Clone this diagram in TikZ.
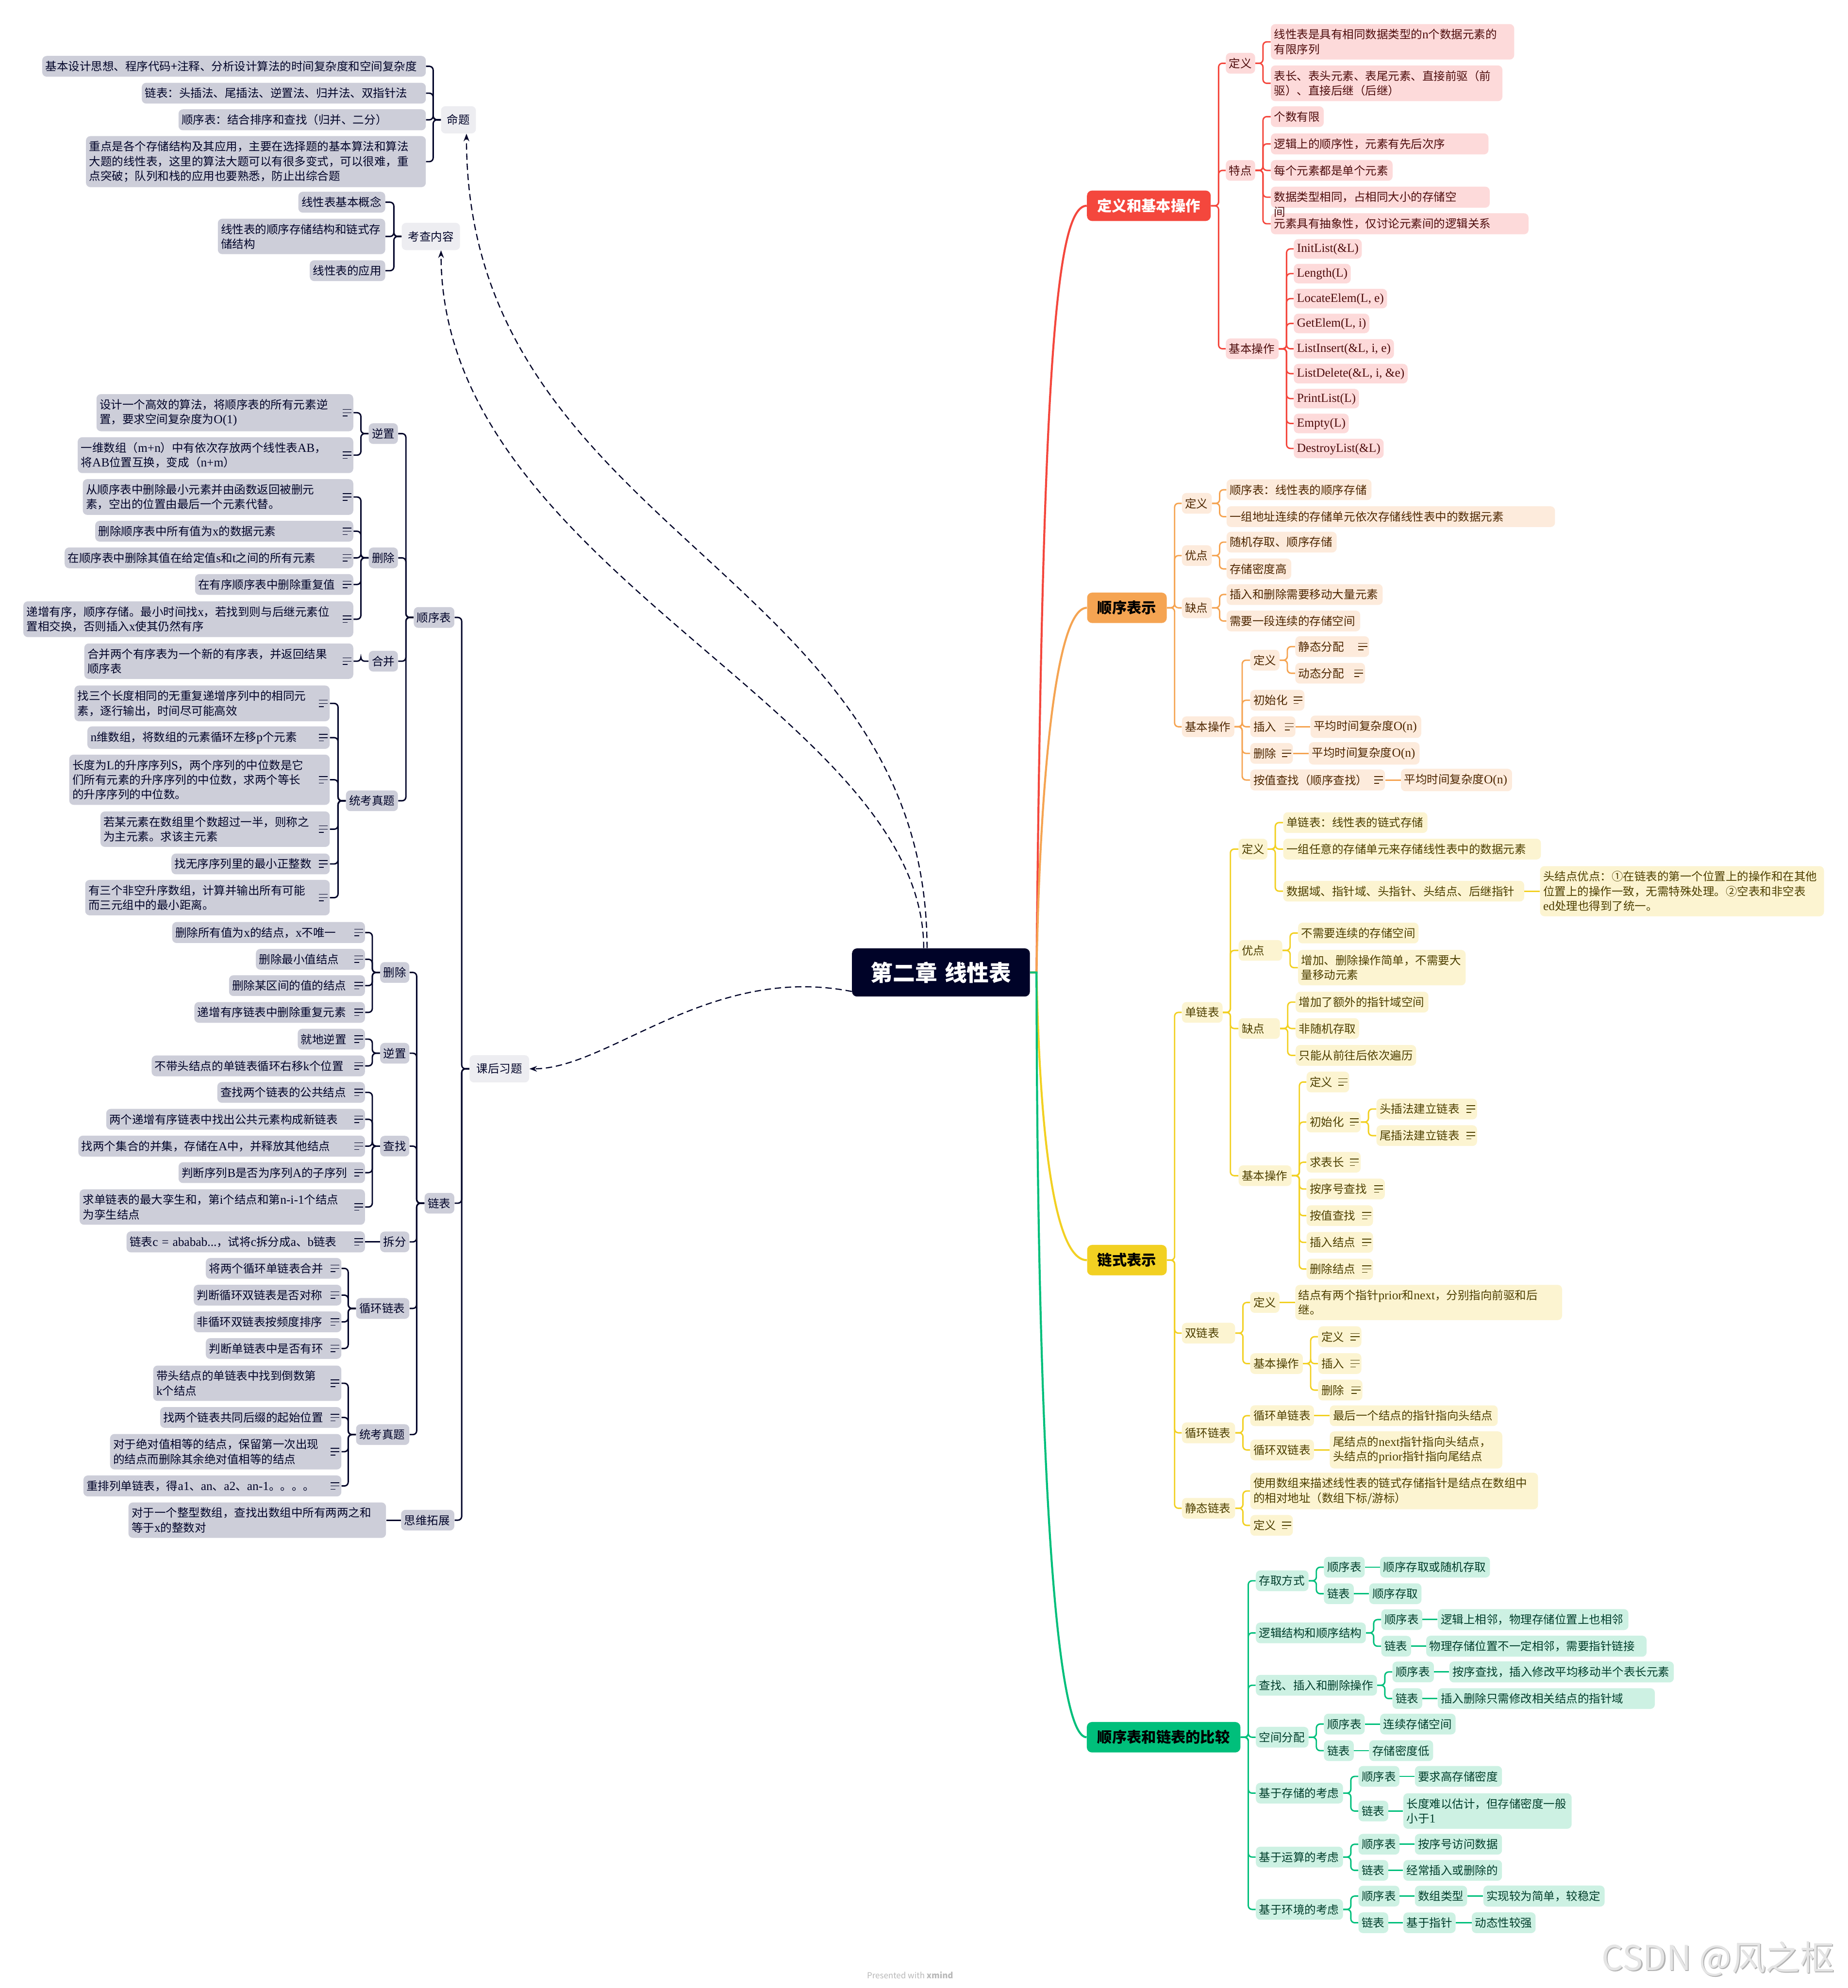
\documentclass[tikz,border=0pt]{standalone}
\usepackage{fontspec}
\setmainfont{Noto Sans CJK SC}
\newfontfamily\serifl[Scale=1.08]{Liberation Serif}
\newcommand\Ltn[1]{{\serifl #1}}
\newcommand\fsn{\fontsize{9}{11.6}\selectfont}
\usetikzlibrary{arrows.meta}
\definecolor{navy}{HTML}{000328}
\definecolor{lfill}{HTML}{CDCED9}
\definecolor{hfill}{HTML}{EDEDF1}
\definecolor{rline}{HTML}{F4473D}
\definecolor{rfill}{HTML}{FDDADA}
\definecolor{rtext}{HTML}{4D0C0C}
\definecolor{oline}{HTML}{F5A452}
\definecolor{ofill}{HTML}{FDEBDC}
\definecolor{otext}{HTML}{4D2600}
\definecolor{yline}{HTML}{F2D022}
\definecolor{yfill}{HTML}{FCF4D1}
\definecolor{ytext}{HTML}{4D3F00}
\definecolor{gline}{HTML}{00BF7B}
\definecolor{gfill}{HTML}{CDF1E3}
\definecolor{gtext}{HTML}{003D2B}
\tikzset{
  bx/.style={rounded corners=3.5pt,inner xsep=2.5pt,inner ysep=4pt,align=left,font=\fsn},
  lb/.style={bx,fill=lfill,text=navy,anchor=east,text width=#1},
  lh/.style={bx,fill=hfill,text=navy,anchor=east,text width=#1,align=center,minimum height=21.5pt},
  rb/.style={bx,fill=rfill,text=rtext,anchor=west,text width=#1},
  ob/.style={bx,fill=ofill,text=otext,anchor=west,text width=#1},
  yb/.style={bx,fill=yfill,text=ytext,anchor=west,text width=#1},
  gb/.style={bx,fill=gfill,text=gtext,anchor=west,text width=#1},
  rf/.style={bx,fill=rfill,text=rtext,anchor=west,font=\fsn\serifl,text height=7.4pt,text depth=2pt,inner ysep=3pt},
  mainb/.style={rounded corners=4pt,font=\fontsize{11.6}{14}\selectfont\bfseries,align=center,minimum height=24pt,inner xsep=3pt,inner ysep=3pt,anchor=west},
  ic/.style={path picture={\draw[line width=0.6pt,#1]
     ([xshift=-8.5pt,yshift=2.6pt]path picture bounding box.east) -- ++(7pt,0pt)
     ([xshift=-8.5pt]path picture bounding box.east) -- ++(7pt,0pt)
     ([xshift=-8.5pt,yshift=-2.6pt]path picture bounding box.east) -- ++(4pt,0pt);}},
  ic/.default=navy,
  lcn/.style={draw=navy,line width=1.1pt,rounded corners=3pt},
  rcn/.style={draw=rline,line width=1.1pt,rounded corners=3pt},
  ocn/.style={draw=oline,line width=1.1pt,rounded corners=3pt},
  ycn/.style={draw=yline,line width=1.1pt,rounded corners=3pt},
  gcn/.style={draw=gline,line width=1.1pt,rounded corners=3pt},
  mcn/.style={draw=#1,line width=1.6pt},
  rel/.style={draw=navy,line width=0.9pt,dash pattern=on 5pt off 3pt,-{Stealth[length=6pt,width=4.5pt]}},
}
\newcommand\lcon[2]{\draw[lcn] (#1.west) -- ++(-6,0) |- (#2.east);}
\newcommand\rcon[3]{\draw[#1] (#2.east) -- ++(6,0) |- (#3.west);}
\begin{document}
\begin{tikzpicture}[x=1pt,y=-1pt]
\fill[white] (0,0) rectangle (1457,1568);
\useasboundingbox (0,0) rectangle (1457,1568);

% ---------------- root
\node[fill=navy,text=white,rounded corners=4pt,font=\fontsize{17.5}{20}\selectfont\bfseries,text width=124.3pt,align=center,minimum height=38pt,inner xsep=8pt,anchor=west] (root) at (671.7,767) {第二章 线性表};

% ---------------- 命题
\node[lh=22.5pt] (mt) at (375.5,94.5) {命题};
\node[lb=297.5pt] (mt1) at (336,52.3) {基本设计思想、程序代码+注释、分析设计算法的时间复杂度和空间复杂度};
\node[lb=219pt] (mt2) at (336,73.5) {链表：头插法、尾插法、逆置法、归并法、双指针法};
\node[lb=190pt] (mt3) at (336,94.5) {顺序表：结合排序和查找（归并、二分）};
\node[lb=263pt] (mt4) at (336,127.5) {重点是各个存储结构及其应用，主要在选择题的基本算法和算法\\大题的线性表，这里的算法大题可以有很多变式，可以很难，重\\点突破；队列和栈的应用也要熟悉，防止出综合题};
\foreach \c in {mt1,mt2,mt3,mt4}{\lcon{mt}{\c}}

% ---------------- 考查内容
\node[lh=41pt] (kc) at (363,186.5) {考查内容};
\node[lb=63.5pt] (kc1) at (304,159.5) {线性表基本概念};
\node[lb=127pt] (kc2) at (304,186.5) {线性表的顺序存储结构和链式存\\储结构};
\node[lb=54.5pt] (kc3) at (304,213.5) {线性表的应用};
\foreach \c in {kc1,kc2,kc3}{\lcon{kc}{\c}}

% ---------------- 课后习题
\node[lh=42pt] (kh) at (417.5,843) {课后习题};
\node[lb=27pt] (sx) at (358.5,487) {顺序表};
\node[lb=18.5pt] (lk) at (358.5,949) {链表};
\node[lb=37pt] (sw) at (358.5,1199) {思维拓展};
\foreach \c in {sx,lk,sw}{\lcon{kh}{\c}}

% 顺序表 branch
\node[lb=18pt] (sa) at (314,342) {逆置};
\node[lb=18pt] (sb) at (314,440) {删除};
\node[lb=18pt] (sc) at (314,521.5) {合并};
\node[lb=36pt] (sd) at (314,631.6) {统考真题};
\foreach \c in {sa,sb,sc,sd}{\lcon{sx}{\c}}

\node[lb=197.5pt,ic] (sa1) at (278.8,325.5) {设计一个高效的算法，将顺序表的所有元素逆\\置，要求空间复杂度为\Ltn{O(1)}};
\node[lb=212.3pt,ic] (sa2) at (278.8,359) {一维数组（\Ltn{m+n}）中有依次存放两个线性表\Ltn{AB}，\\将\Ltn{AB}位置互换，变成（\Ltn{n+m}）};
\node[lb=208.3pt,ic] (sb1) at (278.8,392) {从顺序表中删除最小元素并由函数返回被删元\\素，空出的位置由最后一个元素代替。};
\node[lb=198.5pt,ic] (sb2) at (278.8,419) {删除顺序表中所有值为\Ltn{x}的数据元素};
\node[lb=222.6pt,ic] (sb3) at (278.8,440) {在顺序表中删除其值在给定值\Ltn{s}和\Ltn{t}之间的所有元素};
\node[lb=119.8pt,ic] (sb4) at (278.8,461) {在有序顺序表中删除重复值};
\node[lb=255.2pt,ic] (sb5) at (278.8,488.4) {递增有序，顺序存储。最小时间找\Ltn{x}，若找到则与后继元素位\\置相交换，否则插入\Ltn{x}使其仍然有序};
\node[lb=207.1pt,ic] (sc1) at (278.8,521.5) {合并两个有序表为一个新的有序表，并返回结果\\顺序表};
\foreach \c in {sa1,sa2}{\lcon{sa}{\c}}
\foreach \c in {sb1,sb2,sb3,sb4,sb5}{\lcon{sb}{\c}}
\lcon{sc}{sc1}

\node[lb=196.3pt,ic] (d1) at (260.2,554.8) {找三个长度相同的无重复递增序列中的相同元\\素，逐行输出，时间尽可能高效};
\node[lb=186.1pt,ic] (d2) at (260.2,581.8) {\Ltn{n}维数组，将数组的元素循环左移\Ltn{p}个元素};
\node[lb=200.4pt,ic] (d3) at (260.2,615) {长度为\Ltn{L}的升序序列\Ltn{S}，两个序列的中位数是它\\们所有元素的升序序列的中位数，求两个等长\\的升序序列的中位数。};
\node[lb=175.8pt,ic] (d4) at (260.2,654) {若某元素在数组里个数超过一半，则称之\\为主元素。求该主元素};
\node[lb=119.8pt,ic] (d5) at (260.2,681.4) {找无序序列里的最小正整数};
\node[lb=187.8pt,ic] (d6) at (260.2,708) {有三个非空升序数组，计算并输出所有可能\\而三元组中的最小距离。};
\foreach \c in {d1,d2,d3,d4,d5,d6}{\lcon{sd}{\c}}

% 链表 branch
\node[lb=18pt] (le) at (323,767) {删除};
\node[lb=18pt] (lf) at (323,830.7) {逆置};
\node[lb=18pt] (lg) at (323,904) {查找};
\node[lb=18pt] (lc) at (323,979.5) {拆分};
\node[lb=37pt] (li) at (323,1032) {循环链表};
\node[lb=37pt] (lj) at (323,1131.5) {统考真题};
\foreach \c in {le,lf,lg,lc,li,lj}{\lcon{lk}{\c}}

\node[lb=147pt,ic] (le1) at (288,735.5) {删除所有值为\Ltn{x}的结点，\Ltn{x}不唯一};
\node[lb=81pt,ic] (le2) at (288,756.6) {删除最小值结点};
\node[lb=102.2pt,ic] (le3) at (288,777.4) {删除某区间的值的结点};
\node[lb=129.5pt,ic] (le4) at (288,798.5) {递增有序链表中删除重复元素};
\node[lb=48pt,ic] (lf1) at (288,819.6) {就地逆置};
\node[lb=163.2pt,ic] (lf2) at (288,840.7) {不带头结点的单链表循环右移\Ltn{k}个位置};
\node[lb=111.4pt,ic] (lg1) at (288,861.6) {查找两个链表的公共结点};
\node[lb=199pt,ic] (lg2) at (288,882.8) {两个递增有序链表中找出公共元素构成新链表};
\node[lb=221pt,ic] (lg3) at (288,904) {找两个集合的并集，存储在\Ltn{A}中，并释放其他结点};
\node[lb=142pt,ic] (lg4) at (288,924.9) {判断序列\Ltn{B}是否为序列\Ltn{A}的子序列};
\node[lb=220pt,ic] (lg5) at (288,952) {求单链表的最大孪生和，第\Ltn{i}个结点和第\Ltn{n-i-1}个结点\\为孪生结点};
\node[lb=183pt,ic] (lc1) at (288,979.5) {链表\Ltn{c = ababab...}，试将\Ltn{c}拆分成\Ltn{a}、\Ltn{b}链表};
\foreach \c in {le1,le2,le3,le4}{\lcon{le}{\c}}
\foreach \c in {lf1,lf2}{\lcon{lf}{\c}}
\foreach \c in {lg1,lg2,lg3,lg4,lg5}{\lcon{lg}{\c}}
\draw[lcn] (lc.west) -- (lc1.east);

\node[lb=101.9pt,ic] (lo1) at (269.4,1000.4) {将两个循环单链表合并};
\node[lb=111.4pt,ic] (lo2) at (269.4,1021.5) {判断循环双链表是否对称};
\node[lb=111.4pt,ic] (lo3) at (269.4,1042.6) {非循环双链表按频度排序};
\node[lb=101.9pt,ic] (lo4) at (269.4,1063.6) {判断单链表中是否有环};
\foreach \c in {lo1,lo2,lo3,lo4}{\lcon{li}{\c}}

\node[lb=143.4pt,ic] (lt1) at (269.4,1091) {带头结点的单链表中找到倒数第\\\Ltn{k}个结点};
\node[lb=137.9pt,ic] (lt2) at (269.4,1118) {找两个链表共同后缀的起始位置};
\node[lb=177.4pt,ic] (lt3) at (269.4,1145) {对于绝对值相等的结点，保留第一次出现\\的结点而删除其余绝对值相等的结点};
\node[lb=198.4pt,ic] (lt4) at (269.4,1172) {重排列单链表，得\Ltn{a1}、\Ltn{an}、\Ltn{a2}、\Ltn{an-1}。。。。};
\foreach \c in {lt1,lt2,lt3,lt4}{\lcon{lj}{\c}}

\node[lb=198.1pt] (sw1) at (304.6,1199) {对于一个整型数组，查找出数组中所有两两之和\\等于\Ltn{x}的整数对};
\draw[lcn] (sw.west) -- (sw1.east);

% ---------------- 定义和基本操作 (red)
\node[mainb,fill=rline,text=white,text width=91.6pt] (R) at (857,162.3) {定义和基本操作};
\node[rb=18.1pt] (r1) at (966.5,49.9) {定义};
\node[rb=18.1pt] (r2) at (966.5,134.4) {特点};
\node[rb=36.7pt] (r3) at (966.5,275.1) {基本操作};
\foreach \c in {r1,r2,r3}{\rcon{rcn}{R}{\c}}
\node[rb=186.9pt] (r1a) at (1002,33) {线性表是具有相同数据类型的\Ltn{n}个数据元素的\\有限序列};
\node[rb=177.6pt] (r1b) at (1002,65.7) {表长、表头元素、表尾元素、直接前驱（前\\驱）、直接后继（后继）};
\node[rb=36.7pt] (r2a) at (1002,92) {个数有限};
\node[rb=166.6pt] (r2b) at (1002,113.5) {逻辑上的顺序性，元素有先后次序};
\node[rb=91pt] (r2c) at (1002,134.4) {每个元素都是单个元素};
\node[rb=198.2pt] (r2e) at (1002,176.5) {元素具有抽象性，仅讨论元素间的逻辑关系};
\node[rb=167.6pt,label={[anchor=north west,inner sep=0pt,xshift=2.5pt,yshift=1pt,text=rtext,font=\fsn]south west:间}] (r2d) at (1002,155.5) {数据类型相同，占相同大小的存储空};
\foreach \c in {r1a,r1b}{\rcon{rcn}{r1}{\c}}
\foreach \c in {r2a,r2b,r2c,r2d,r2e}{\rcon{rcn}{r2}{\c}}
\node[rf] (f1) at (1020.1,196.3) {InitList(\&L)};
\node[rf] (f2) at (1020.1,215.8) {Length(L)};
\node[rf] (f3) at (1020.1,235.5) {LocateElem(L, e)};
\node[rf] (f4) at (1020.1,255.1) {GetElem(L, i)};
\node[rf] (f5) at (1020.1,275.1) {ListInsert(\&L, i, e)};
\node[rf] (f6) at (1020.1,294.7) {ListDelete(\&L, i, \&e)};
\node[rf] (f7) at (1020.1,314.4) {PrintList(L)};
\node[rf] (f8) at (1020.1,334) {Empty(L)};
\node[rf] (f9) at (1020.1,353.7) {DestroyList(\&L)};
\foreach \c in {f1,f2,f3,f4,f5,f6,f7,f8,f9}{\rcon{rcn}{r3}{\c}}

% ---------------- 顺序表示 (orange)
\node[mainb,fill=oline,text=black,text width=56.8pt] (O) at (857.1,479.4) {顺序表示};
\node[ob=18.5pt] (o1) at (931.9,397) {定义};
\node[ob=18.5pt] (o2) at (931.9,438.2) {优点};
\node[ob=18.5pt] (o3) at (931.9,479.4) {缺点};
\node[ob=36.3pt] (o4) at (931.9,573.2) {基本操作};
\foreach \c in {o1,o2,o3,o4}{\rcon{ocn}{O}{\c}}
\node[ob=109.3pt] (o1a) at (967.1,386.3) {顺序表：线性表的顺序存储};
\node[ob=254pt] (o1b) at (967.1,407.5) {一组地址连续的存储单元依次存储线性表中的数据元素};
\node[ob=81.8pt] (o2a) at (967.1,427.6) {随机存取、顺序存储};
\node[ob=46pt] (o2b) at (967.1,448.7) {存储密度高};
\node[ob=118.1pt] (o3a) at (967.1,468.9) {插入和删除需要移动大量元素};
\node[ob=100.4pt] (o3b) at (967.1,489.8) {需要一段连续的存储空间};
\foreach \c in {o1a,o1b}{\rcon{ocn}{o1}{\c}}
\foreach \c in {o2a,o2b}{\rcon{ocn}{o2}{\c}}
\foreach \c in {o3a,o3b}{\rcon{ocn}{o3}{\c}}
\node[ob=18pt] (o41) at (985.8,520.7) {定义};
\node[ob=37.7pt,ic=otext] (o42) at (985.8,552.3) {初始化};
\node[ob=30.6pt,ic=otext] (o43) at (985.8,573.2) {插入};
\node[ob=28.6pt,ic=otext] (o44) at (985.8,594.2) {删除};
\node[ob=101.2pt,ic=otext] (o45) at (985.8,615.2) {按值查找（顺序查找）};
\foreach \c in {o41,o42,o43,o44,o45}{\rcon{ocn}{o4}{\c}}
\node[ob=53.2pt,ic=otext] (o41a) at (1021.3,510) {静态分配};
\node[ob=50pt,ic=otext] (o41b) at (1021.3,531) {动态分配};
\foreach \c in {o41a,o41b}{\rcon{ocn}{o41}{\c}}
\node[ob=82.3pt] (o43a) at (1033.3,573.2) {平均时间复杂度\Ltn{O(n)}};
\node[ob=82.3pt] (o44a) at (1032,594.2) {平均时间复杂度\Ltn{O(n)}};
\node[ob=82.6pt] (o45a) at (1104.6,615.2) {平均时间复杂度\Ltn{O(n)}};
\draw[ocn] (o43.east) -- (o43a.west);
\draw[ocn] (o44.east) -- (o44a.west);
\draw[ocn] (o45.east) -- (o45a.west);

% ---------------- 链式表示 (yellow)
\node[mainb,fill=yline,text=black,text width=56.8pt] (Y) at (857.1,993.9) {链式表示};
\node[yb=27pt] (y1) at (931.9,798.5) {单链表};
\node[yb=36.9pt] (y2) at (931.9,1051.5) {双链表};
\node[yb=36.9pt] (y3) at (931.9,1130.1) {循环链表};
\node[yb=36.9pt] (y4) at (931.9,1189.6) {静态链表};
\foreach \c in {y1,y2,y3,y4}{\rcon{ycn}{Y}{\c}}
\node[yb=17.7pt] (y11) at (976.6,669.7) {定义};
\node[yb=29.4pt] (y12) at (976.6,749.6) {优点};
\node[yb=27.5pt] (y13) at (976.6,811.2) {缺点};
\node[yb=36.7pt] (y14) at (976.6,927.3) {基本操作};
\foreach \c in {y11,y12,y13,y14}{\rcon{ycn}{y1}{\c}}
\node[yb=108.7pt] (y11a) at (1011.8,648.8) {单链表：线性表的链式存储};
\node[yb=198.2pt] (y11b) at (1011.8,669.7) {一组任意的存储单元来存储线性表中的数据元素};
\node[yb=185pt] (y11c) at (1011.8,702.9) {数据域、指针域、头指针、头结点、后继指针};
\foreach \c in {y11a,y11b,y11c}{\rcon{ycn}{y11}{\c}}
\node[yb=218.9pt] (y11d) at (1214.3,702.9) {头结点优点：①在链表的第一个位置上的操作和在其他\\位置上的操作一致，无需特殊处理。②空表和非空表\\\Ltn{ed}处理也得到了统一。};
\draw[ycn] (y11c.east) -- (y11d.west);
\node[yb=90pt] (y12a) at (1023.5,735.9) {不需要连续的存储空间};
\node[yb=127.1pt] (y12b) at (1023.5,763.2) {增加、删除操作简单，不需要大\\量移动元素};
\foreach \c in {y12a,y12b}{\rcon{ycn}{y12}{\c}}
\node[yb=99.7pt] (y13a) at (1021.6,790.4) {增加了额外的指针域空间};
\node[yb=45pt] (y13b) at (1021.6,811.2) {非随机存取};
\node[yb=90pt] (y13c) at (1021.6,832.4) {只能从前往后依次遍历};
\foreach \c in {y13a,y13b,y13c}{\rcon{ycn}{y13}{\c}}
\node[yb=28.6pt,ic=ytext] (y14a) at (1030.2,853.4) {定义};
\node[yb=37.6pt,ic=ytext] (y14b) at (1030.2,885) {初始化};
\node[yb=37.6pt,ic=ytext] (y14c) at (1030.2,916.7) {求表长};
\node[yb=56.7pt,ic=ytext] (y14d) at (1030.2,937.8) {按序号查找};
\node[yb=47.4pt,ic=ytext] (y14e) at (1030.2,958.8) {按值查找};
\node[yb=47.4pt,ic=ytext] (y14f) at (1030.2,979.9) {插入结点};
\node[yb=47.4pt,ic=ytext] (y14g) at (1030.2,1000.9) {删除结点};
\foreach \c in {y14a,y14b,y14c,y14d,y14e,y14f,y14g}{\rcon{ycn}{y14}{\c}}
\node[yb=74.3pt,ic=ytext] (y14b1) at (1085.3,874.7) {头插法建立链表};
\node[yb=74.3pt,ic=ytext] (y14b2) at (1085.3,895.7) {尾插法建立链表};
\foreach \c in {y14b1,y14b2}{\rcon{ycn}{y14b}{\c}}
\node[yb=18pt] (y21) at (985.8,1027.3) {定义};
\node[yb=36.4pt] (y22) at (985.8,1075.5) {基本操作};
\foreach \c in {y21,y22}{\rcon{ycn}{y2}{\c}}
\node[yb=205.4pt] (y21a) at (1021.3,1027.3) {结点有两个指针\Ltn{prior}和\Ltn{next}，分别指向前驱和后\\继。};
\draw[ycn] (y21.east) -- (y21a.west);
\node[yb=29pt,ic=ytext] (y22a) at (1039.4,1054.3) {定义};
\node[yb=29pt,ic=ytext] (y22b) at (1039.4,1075.5) {插入};
\node[yb=29.8pt,ic=ytext] (y22c) at (1039.4,1096.4) {删除};
\foreach \c in {y22a,y22b,y22c}{\rcon{ycn}{y22}{\c}}
\node[yb=45.2pt] (y31) at (985.8,1116.6) {循环单链表};
\node[yb=45.2pt] (y32) at (985.8,1143.6) {循环双链表};
\foreach \c in {y31,y32}{\rcon{ycn}{y3}{\c}}
\node[yb=127.4pt] (y31a) at (1048.5,1116.6) {最后一个结点的指针指向头结点};
\node[yb=131pt] (y32a) at (1048.5,1143.6) {尾结点的\Ltn{next}指针指向头结点，\\头结点的\Ltn{prior}指针指向尾结点};
\draw[ycn] (y31.east) -- (y31a.west);
\draw[ycn] (y32.east) -- (y32a.west);
\node[yb=221.9pt] (y41) at (985.8,1176) {使用数组来描述线性表的链式存储指针是结点在数组中\\的相对地址（数组下标/游标）};
\node[yb=28.6pt,ic=ytext] (y42) at (985.8,1203.1) {定义};
\foreach \c in {y41,y42}{\rcon{ycn}{y4}{\c}}

% ---------------- 顺序表和链表的比较 (green)
\node[mainb,fill=gline,text=black,text width=115.1pt] (G) at (856.9,1370.2) {顺序表和链表的比较};
\node[gb=36.5pt] (g1) at (990.2,1246.8) {存取方式};
\node[gb=81.7pt] (g2) at (990.2,1287.9) {逻辑结构和顺序结构};
\node[gb=90.5pt] (g3) at (990.2,1329.2) {查找、插入和删除操作};
\node[gb=36.5pt] (g4) at (990.2,1370.2) {空间分配};
\node[gb=63.7pt] (g5) at (990.2,1414.3) {基于存储的考虑};
\node[gb=63.7pt] (g6) at (990.2,1464.7) {基于运算的考虑};
\node[gb=63.7pt] (g7) at (990.2,1506) {基于环境的考虑};
\foreach \c in {g1,g2,g3,g4,g5,g6,g7}{\rcon{gcn}{G}{\c}}

\node[gb=27.1pt] (g1a) at (1043.9,1236.1) {顺序表};
\node[gb=18.5pt] (g1b) at (1043.9,1257) {链表};
\node[gb=81.6pt] (g1aa) at (1088.2,1236.1) {顺序存取或随机存取};
\node[gb=36.2pt] (g1ba) at (1079.6,1257) {顺序存取};
\node[gb=27.3pt] (g2a) at (1089.1,1277.4) {顺序表};
\node[gb=18.5pt] (g2b) at (1089.1,1298.4) {链表};
\node[gb=145.4pt] (g2aa) at (1133.6,1277.4) {逻辑上相邻，物理存储位置上也相邻};
\node[gb=168.8pt] (g2ba) at (1124.5,1298.4) {物理存储位置不一定相邻，需要指针链接};
\node[gb=27.7pt] (g3a) at (1097.9,1318.7) {顺序表};
\node[gb=18.5pt] (g3b) at (1097.9,1339.7) {链表};
\node[gb=172pt] (g3aa) at (1142.8,1318.7) {按序查找，插入修改平均移动半个表长元素};
\node[gb=166.2pt] (g3ba) at (1133.6,1339.7) {插入删除只需修改相关结点的指针域};
\node[gb=27.1pt] (g4a) at (1043.9,1359.8) {顺序表};
\node[gb=18.5pt] (g4b) at (1043.9,1380.8) {链表};
\node[gb=54.5pt] (g4aa) at (1088.2,1359.8) {连续存储空间};
\node[gb=45.4pt] (g4ba) at (1079.6,1380.8) {存储密度低};
\node[gb=27.3pt] (g5a) at (1071.1,1401.1) {顺序表};
\node[gb=18.5pt] (g5b) at (1071.1,1428.4) {链表};
\node[gb=63.7pt] (g5aa) at (1115.6,1401.1) {要求高存储密度};
\node[gb=127.7pt] (g5ba) at (1106.5,1428.4) {长度难以估计，但存储密度一般\\小于\Ltn{1}};
\node[gb=27.3pt] (g6a) at (1071.1,1454.6) {顺序表};
\node[gb=18.5pt] (g6b) at (1071.1,1475.2) {链表};
\node[gb=63.7pt] (g6aa) at (1115.6,1454.6) {按序号访问数据};
\node[gb=72.8pt] (g6ba) at (1106.5,1475.2) {经常插入或删除的};
\node[gb=27.3pt] (g7a) at (1071.1,1495.5) {顺序表};
\node[gb=18.5pt] (g7b) at (1071.1,1516.5) {链表};
\node[gb=36.2pt] (g7aa) at (1115.6,1495.5) {数组类型};
\node[gb=90.6pt] (g7ab) at (1169.6,1495.5) {实现较为简单，较稳定};
\node[gb=36.2pt] (g7ba) at (1106.5,1516.5) {基于指针};
\node[gb=45.3pt] (g7bb) at (1160.5,1516.5) {动态性较强};
\foreach \p in {1,...,7}{
  \rcon{gcn}{g\p}{g\p a}
  \rcon{gcn}{g\p}{g\p b}
}
\foreach \p in {1,...,7}{
  \draw[gcn] (g\p a.east) -- (g\p aa.west);
  \draw[gcn] (g\p b.east) -- (g\p ba.west);
}
\draw[gcn] (g7aa.east) -- (g7ab.west);
\draw[gcn] (g7ba.east) -- (g7bb.west);

% ---------------- main branches
\draw[mcn=rline] (root.east) -- ++(5,0) .. controls (822,300) and (832,162.3) .. (R.west);
\draw[mcn=oline] (root.east) -- ++(5,0) .. controls (820,620) and (832,479.4) .. (O.west);
\draw[mcn=yline] (root.east) -- ++(5,0) .. controls (820,900) and (832,993.9) .. (Y.west);
\draw[mcn=gline] (root.east) -- ++(5,0) .. controls (818,1150) and (832,1370.2) .. (G.west);

% ---------------- relationships
\draw[rel] ([xshift=-11pt]root.north) .. controls (731,450) and (368,420) .. ([xshift=6.3pt]mt.south);
\draw[rel] ([xshift=-13.6pt]root.north) .. controls (728,560) and (348,450) .. ([xshift=8pt]kc.south);
\draw[rel] ([yshift=-15pt]root.west) .. controls (560,760) and (480,843) .. (kh.east);

% ---------------- watermarks
\node[text=black!28,font=\fontsize{6.5}{7}\selectfont,anchor=west,inner sep=0pt] (wm1) at (683.5,1558) {Presented with \textbf{xmind}};
\node[text=black!30,font=\fontsize{27}{30}\selectfont,anchor=west,inner sep=0pt] (wm2s) at (1263.8,1545.8) {CSDN @风之枢};
\node[text=black!10,font=\fontsize{27}{30}\selectfont,anchor=west,inner sep=0pt] (wm2) at (1263,1545) {CSDN @风之枢};
\end{tikzpicture}
\end{document}
